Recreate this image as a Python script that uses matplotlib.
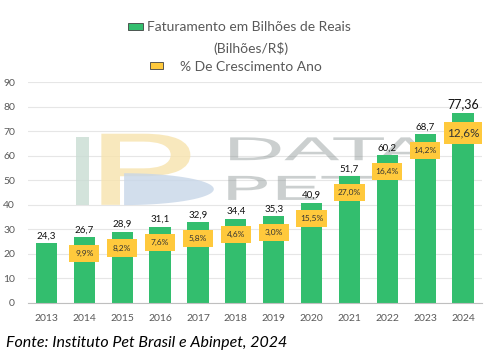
import numpy as np
import matplotlib.pyplot as plt
from matplotlib.patches import Rectangle, PathPatch, Polygon
from matplotlib.textpath import TextPath
from matplotlib.font_manager import FontProperties
from matplotlib.transforms import Affine2D

plt.rcParams['font.family'] = ['Lato', 'DejaVu Sans']

years = ['2013', '2014', '2015', '2016', '2017', '2018',
         '2019', '2020', '2021', '2022', '2023', '2024']
faturamento = [24.3, 26.7, 28.9, 31.1, 32.9, 34.4, 35.3, 40.9, 51.7, 60.2, 68.7, 77.36]
fat_labels = ['24,3', '26,7', '28,9', '31,1', '32,9', '34,4',
              '35,3', '40,9', '51,7', '60,2', '68,7', '77,36']
crescimento = [None, '9,9%', '8,2%', '7,6%', '5,8%', '4,6%',
               '3,0%', '15,5%', '27,0%', '16,4%', '14,2%', '12,6%']

green = '#33BE6E'
yellow = '#FFC93C'
gray = '#595959'

fig = plt.figure(figsize=(5, 3.62), dpi=100)
ax = fig.add_axes([0.055, 0.163, 0.909, 0.61])


def fitted_text(ax, s, x0, x1, y0, y1, **kw):
    # stretch a text outline into a box given in data units (watermark)
    tp = TextPath((0, 0), s, size=1, prop=FontProperties(family='DejaVu Sans'))
    ext = tp.get_extents()
    tr = (Affine2D().translate(-ext.x0, -ext.y0)
          .scale((x1 - x0) / ext.width, (y1 - y0) / ext.height)
          .translate(x0, y0))
    ax.add_patch(PathPatch(tr.transform_path(tp), lw=0, **kw))


# faint DATA PET watermark behind the bars
fitted_text(ax, 'DATA', 4.85, 10.2, 58.2, 67.5, color='#8d9696', alpha=0.45, zorder=1)
fitted_text(ax, 'PET', 4.8, 8.6, 42.0, 51.8, color='#8d9696', alpha=0.45, zorder=1)
ax.add_patch(Rectangle((0.79, 40), 0.34, 27.5, color='#c9dcd3', alpha=0.8, lw=0, zorder=1))
fitted_text(ax, 'P', 1.45, 3.8, 40, 69, color='#f7e3ad', alpha=0.8, zorder=1)
th = np.linspace(-np.pi / 2, np.pi / 2, 40)
ax.add_patch(Polygon(np.column_stack([2.05 + 2.37 * np.cos(th), 46.4 + 6.5 * np.sin(th)]),
                     closed=True, color='#c7d6e8', alpha=0.8, lw=0, zorder=1))

x = np.arange(len(years))
ax.bar(x, faturamento, width=0.56, color=green, zorder=2)

for i, (v, lab) in enumerate(zip(faturamento, fat_labels)):
    big = i == len(years) - 1
    ax.text(i, v + 1.2, lab, ha='center', va='bottom',
            fontsize=9 if big else 7, color='#111111', zorder=5)

# growth boxes sitting on the bars
for i, (v, lab) in enumerate(zip(faturamento, crescimento)):
    if lab is None:
        continue
    big = i == len(years) - 1
    w = 1.02 if big else 0.8
    h = 9 if big else 7
    c = v - (8 if big else 6.5)
    ax.bar(i, h, bottom=c - h / 2, width=w, color=yellow, zorder=3)
    ax.text(i, c, lab, ha='center', va='center',
            fontsize=8.5 if big else 6, color='#333333', zorder=4)

ax.set_xlim(-0.5, 11.5)
ax.set_ylim(0, 90)
ax.set_yticks(range(0, 91, 10))
ax.set_xticks(x)
ax.set_xticklabels(years)
ax.tick_params(axis='both', length=0, labelsize=7.5, colors=gray)
ax.tick_params(axis='y', pad=9)
ax.tick_params(axis='x', pad=8)
ax.yaxis.grid(True, color='#e6e6e6', linewidth=0.8, zorder=0)
ax.set_axisbelow(True)
for s in ['top', 'right', 'left']:
    ax.spines[s].set_visible(False)
ax.spines['bottom'].set_color('#bfbfbf')

# legend at top
fig.patches.append(Rectangle((0.256, 0.916), 0.03, 0.02, transform=fig.transFigure,
                             facecolor=green, edgecolor='#404040', linewidth=0.6))
fig.text(0.294, 0.925, 'Faturamento em Bilhões de Reais', fontsize=10,
         color=gray, va='center', ha='left')
fig.text(0.502, 0.866, '(Bilhões/R$)', fontsize=10, color=gray,
         va='center', ha='center')
fig.patches.append(Rectangle((0.3, 0.81), 0.026, 0.02, transform=fig.transFigure,
                             facecolor=yellow, edgecolor='#404040', linewidth=0.6))
fig.text(0.36, 0.815, '% De Crescimento Ano', fontsize=10, color=gray,
         va='center', ha='left')

fig.text(0.012, 0.052, 'Fonte: Instituto Pet Brasil e Abinpet, 2024', fontsize=11.5,
         style='italic', color='black', va='center', ha='left')

fig.savefig('out.png', dpi=100)
